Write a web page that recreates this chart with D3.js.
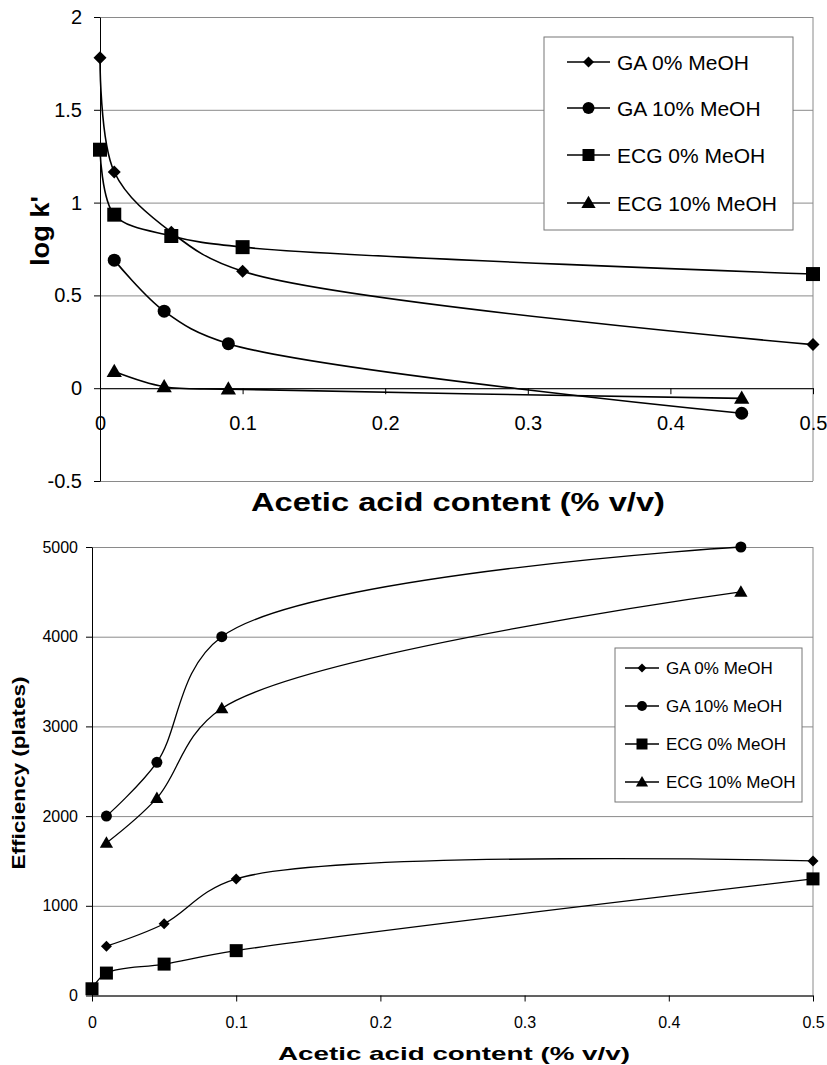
<!DOCTYPE html>
<html>
<head>
<meta charset="utf-8">
<script src="https://cdn.jsdelivr.net/npm/d3@7"></script>
<style>
  body { margin: 0; background: #fff; }
  svg { display: block; font-family: "Liberation Sans", Arial, sans-serif; }
</style>
</head>
<body>
<div id="chart"></div>
<script>
// series names shared by both panels
const seriesNames = ["GA 0% MeOH", "GA 10% MeOH", "ECG 0% MeOH", "ECG 10% MeOH"];
const seriesSymbols = ["diamond", "circle", "square", "triangle"];

// top panel: log k' vs acetic acid content
const topX = {
  ga0: [0, 0.01, 0.05, 0.1, 0.5],
  ga10: [0.01, 0.045, 0.09, 0.45],
  ecg0: [0, 0.01, 0.05, 0.1, 0.5],
  ecg10: [0.01, 0.045, 0.09, 0.45]
};
const topGA0 = [1.78, 1.165, 0.84, 0.63, 0.235];
const topGA10 = [0.69, 0.415, 0.24, -0.135];
const topECG0 = [1.285, 0.935, 0.82, 0.76, 0.615];
const topECG10 = [0.09, 0.008, -0.005, -0.055];
const topYTicks = [-0.5, 0, 0.5, 1, 1.5, 2];
const topXTicks = [0, 0.1, 0.2, 0.3, 0.4, 0.5];

// bottom panel: efficiency (plates)
const botX = {
  ga0: [0.01, 0.05, 0.1, 0.5],
  ga10: [0.01, 0.045, 0.09, 0.45],
  ecg0: [0, 0.01, 0.05, 0.1, 0.5],
  ecg10: [0.01, 0.045, 0.09, 0.45]
};
const botGA0 = [550, 800, 1300, 1500];
const botGA10 = [2000, 2600, 4000, 5000];
const botECG0 = [75, 250, 350, 500, 1300];
const botECG10 = [1700, 2200, 3200, 4500];
const botYTicks = [0, 1000, 2000, 3000, 4000, 5000];
const botXTicks = [0, 0.1, 0.2, 0.3, 0.4, 0.5];

const zip = (xs, ys) => xs.map((x, i) => ({ x, y: ys[i] }));
const plain = d => String(d);

const svg = d3.select("#chart").append("svg")
  .attr("width", 827)
  .attr("height", 1065);

function drawSymbol(g, type, cx, cy, s) {
  if (type === "diamond") {
    g.append("path")
      .attr("d", d3.symbol(d3.symbolSquare, s * s * 0.5)())
      .attr("transform", `translate(${cx},${cy}) rotate(45)`)
      .attr("fill", "#000");
  } else if (type === "circle") {
    g.append("circle").attr("cx", cx).attr("cy", cy).attr("r", s / 2).attr("fill", "#000");
  } else if (type === "square") {
    g.append("path")
      .attr("d", d3.symbol(d3.symbolSquare, s * s)())
      .attr("transform", `translate(${cx},${cy})`)
      .attr("fill", "#000");
  } else {
    g.append("path")
      .attr("d", d3.symbol(d3.symbolTriangle, s * s * 0.45)())
      .attr("transform", `translate(${cx},${cy + 1})`)
      .attr("fill", "#000");
  }
}

function panel(cfg) {
  const { x, y } = cfg;
  const g = svg.append("g");
  const [x0, x1] = x.range();
  const [yb, yt] = y.range();

  // horizontal grid
  g.append("g")
    .attr("transform", `translate(${x0},0)`)
    .call(d3.axisLeft(y).tickValues(cfg.yTicks).tickSize(-(x1 - x0)).tickFormat(""))
    .call(a => a.select(".domain").remove())
    .call(a => a.selectAll("line").attr("stroke", "#8a8a8a").attr("stroke-width", 1));

  // right border
  g.append("line")
    .attr("x1", x1).attr("x2", x1).attr("y1", yt).attr("y2", yb)
    .attr("stroke", "#8a8a8a");

  // y axis with labels
  g.append("g")
    .attr("transform", `translate(${x0},0)`)
    .call(d3.axisLeft(y).tickValues(cfg.yTicks).tickSize(6).tickSizeOuter(0)
      .tickPadding(cfg.yPad).tickFormat(plain))
    .call(a => a.selectAll("text").attr("font-size", cfg.tickFont).attr("fill", "#000")
      .attr("font-family", "Liberation Sans, Arial, sans-serif"))
    .call(a => a.selectAll("line, path").attr("stroke", "#000"));

  // x axis crossing at y = 0
  g.append("g")
    .attr("transform", `translate(0,${y(0)})`)
    .call(d3.axisBottom(x).tickValues(cfg.xTicks).tickSize(6).tickSizeOuter(0)
      .tickPadding(cfg.xPad).tickFormat(plain))
    .call(a => a.selectAll("text").attr("font-size", cfg.tickFont).attr("fill", "#000")
      .attr("font-family", "Liberation Sans, Arial, sans-serif"))
    .call(a => a.selectAll("line, path").attr("stroke", "#000"));

  // smoothed series
  const line = d3.line().x(d => x(d.x)).y(d => y(d.y)).curve(d3.curveCatmullRom.alpha(0.5));
  cfg.series.forEach(pts => {
    g.append("path")
      .datum(pts)
      .attr("fill", "none")
      .attr("stroke", "#000")
      .attr("stroke-width", cfg.lineW)
      .attr("d", line);
  });
  cfg.series.forEach((pts, i) => {
    pts.forEach(p => drawSymbol(g, seriesSymbols[i], x(p.x), y(p.y), cfg.markSize[i]));
  });

  // legend
  const L = cfg.legend;
  g.append("rect")
    .attr("x", L.x).attr("y", L.y).attr("width", L.w).attr("height", L.h)
    .attr("fill", "#fff").attr("stroke", "#777");
  seriesNames.forEach((name, i) => {
    const cy = L.rows[i];
    g.append("line")
      .attr("x1", L.l0).attr("x2", L.l1).attr("y1", cy).attr("y2", cy)
      .attr("stroke", "#000").attr("stroke-width", cfg.lineW);
    drawSymbol(g, seriesSymbols[i], (L.l0 + L.l1) / 2, cy, L.mark[i]);
    g.append("text")
      .attr("x", L.tx).attr("y", cy + L.font * 0.36)
      .attr("font-size", L.font)
      .text(name);
  });

  // titles
  g.append("text")
    .attr("x", cfg.xTitle.x).attr("y", cfg.xTitle.y)
    .attr("text-anchor", "middle")
    .attr("font-weight", "bold")
    .attr("font-size", cfg.xTitle.font)
    .attr("textLength", cfg.xTitle.len)
    .attr("lengthAdjust", "spacingAndGlyphs")
    .text("Acetic acid content (% v/v)");
  g.append("text")
    .attr("transform", `translate(${cfg.yTitle.x},${cfg.yTitle.y}) rotate(-90)`)
    .attr("text-anchor", "middle")
    .attr("font-weight", "bold")
    .attr("font-size", cfg.yTitle.font)
    .attr("textLength", cfg.yTitle.len)
    .attr("lengthAdjust", "spacingAndGlyphs")
    .text(cfg.yTitle.text);
}

panel({
  x: d3.scaleLinear().domain([0, 0.5]).range([100, 813]),
  y: d3.scaleLinear().domain([-0.5, 2]).range([481, 17]),
  yTicks: topYTicks,
  xTicks: topXTicks,
  yPad: 12,
  xPad: 22,
  tickFont: 20,
  lineW: 1.6,
  markSize: [13, 13, 14, 15],
  series: [zip(topX.ga0, topGA0), zip(topX.ga10, topGA10), zip(topX.ecg0, topECG0), zip(topX.ecg10, topECG10)],
  legend: { x: 544, y: 37, w: 249, h: 193, rows: [62, 108, 155, 203], l0: 567, l1: 610, tx: 617, font: 21, mark: [11, 12, 12, 14] },
  xTitle: { x: 458, y: 511, font: 25, len: 414 },
  yTitle: { x: 49, y: 231, font: 25, len: 70, text: "log k'" }
});

panel({
  x: d3.scaleLinear().domain([0, 0.5]).range([92, 813]),
  y: d3.scaleLinear().domain([0, 5000]).range([995.5, 547]),
  yTicks: botYTicks,
  xTicks: botXTicks,
  yPad: 8,
  xPad: 15,
  tickFont: 16,
  lineW: 1.3,
  markSize: [11, 11, 13, 13],
  series: [zip(botX.ga0, botGA0), zip(botX.ga10, botGA10), zip(botX.ecg0, botECG0), zip(botX.ecg10, botECG10)],
  legend: { x: 615, y: 648, w: 187, h: 154, rows: [668, 706, 744, 782], l0: 625, l1: 659, tx: 666, font: 17, mark: [9, 10, 11, 12] },
  xTitle: { x: 454, y: 1060, font: 19, len: 352 },
  yTitle: { x: 25, y: 773, font: 18, len: 193, text: "Efficiency (plates)" }
});
</script>
</body>
</html>
